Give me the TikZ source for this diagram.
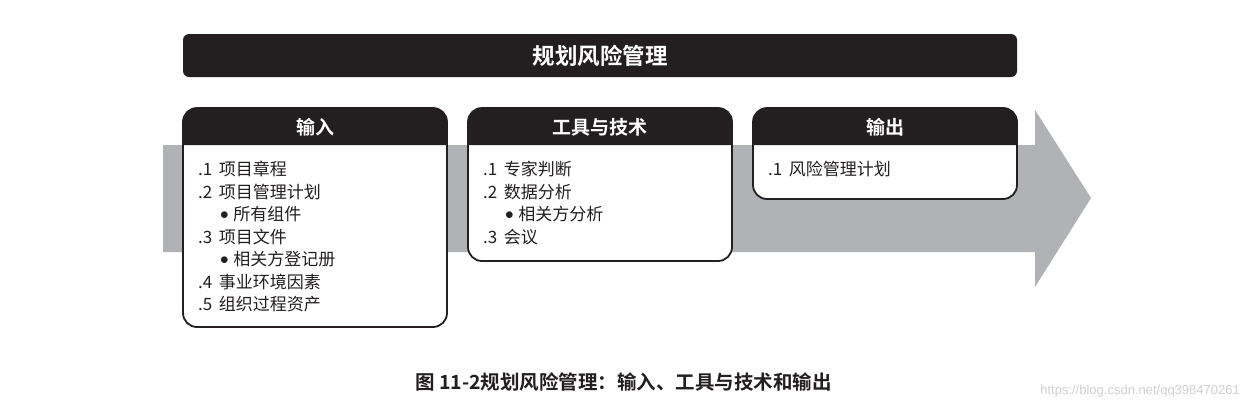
\documentclass[tikz,border=0pt]{standalone}
\usepackage{fontspec}
\setmainfont{Noto Sans CJK SC}[BoldFont={Noto Sans CJK SC Bold}]
\newfontfamily\wmfont{Liberation Sans}
\definecolor{arrowgray}{HTML}{B1B2B5}
\definecolor{boxblack}{HTML}{231F20}
\tikzset{
  hdrtext/.style={text=white, font=\bfseries\fontsize{19}{22}\selectfont, anchor=center, inner sep=0pt},
  itemtext/.style={font=\fontsize{17}{20}\selectfont, anchor=base west, inner sep=0pt, text=boxblack},
  boxline/.style={draw=boxblack, line width=1.8pt, rounded corners=14pt},
}
\newcommand{\blt}{\raisebox{0.1ex}{$\bullet$}\hspace{4.5pt}}
\begin{document}
\begin{tikzpicture}[x=1pt,y=-1pt]
\path[fill=white] (0,0) rectangle (1248,410);
\useasboundingbox (0,0) rectangle (1248,410);
% big gray arrow
\fill[arrowgray] (163,145) -- (1035,145) -- (1035,110) -- (1091,198) -- (1035,287) -- (1035,252) -- (163,252) -- cycle;
% title bar
\fill[boxblack, rounded corners=6pt] (183,34) rectangle (1017,77);
\node[text=white, font=\bfseries\fontsize{22.5}{26}\selectfont, inner sep=0pt] (title) at (600,56) {规划风险管理};
% boxes
\foreach \x/\xr/\yb/\nm in {183/447/327/in, 468/732/261/tt, 753/1017/199/out}{
  \fill[white, rounded corners=14pt] (\x,108) rectangle (\xr,\yb);
  \fill[boxblack] (\x,145) {[rounded corners=14pt] -- (\x,108) -- (\xr,108)} -- (\xr,145) -- cycle;
  \draw[boxline] (\x,108) rectangle (\xr,\yb);
  \coordinate (\nm) at (\x,108);
}
\node[hdrtext] (h1) at (315,127) {输入};
\node[hdrtext] (h2) at (600,127) {工具与技术};
\node[hdrtext] (h3) at (885,127) {输出};
% inputs
\node[itemtext] (i1) at (198,175.5) {.1\, 项目章程};
\node[itemtext] (i2) at (198,198) {.2\, 项目管理计划};
\node[itemtext] (i2a) at (220,220.5) {\blt 所有组件};
\node[itemtext] (i3) at (198,243) {.3\, 项目文件};
\node[itemtext] (i3a) at (220,265.5) {\blt 相关方登记册};
\node[itemtext] (i4) at (198,288) {.4\, 事业环境因素};
\node[itemtext] (i5) at (198,310.5) {.5\, 组织过程资产};
% tools
\node[itemtext] (t1) at (483,175.5) {.1\, 专家判断};
\node[itemtext] (t2) at (483,198) {.2\, 数据分析};
\node[itemtext] (t2a) at (505,220.5) {\blt 相关方分析};
\node[itemtext] (t3) at (483,243) {.3\, 会议};
% outputs
\node[itemtext] (o1) at (768,175.5) {.1\, 风险管理计划};
% caption
\node[anchor=base west, inner sep=0pt, font=\bfseries\fontsize{19.5}{22}\selectfont, text=boxblack] (cap) at (415,389) {图 11-2规划风险管理：输入、工具与技术和输出};
\node[anchor=base east, inner sep=0pt, font=\wmfont\fontsize{13}{15}\selectfont, text=black!18] (wm) at (1240,394) {https://blog.csdn.net/qq398470261};
\end{tikzpicture}
\end{document}
